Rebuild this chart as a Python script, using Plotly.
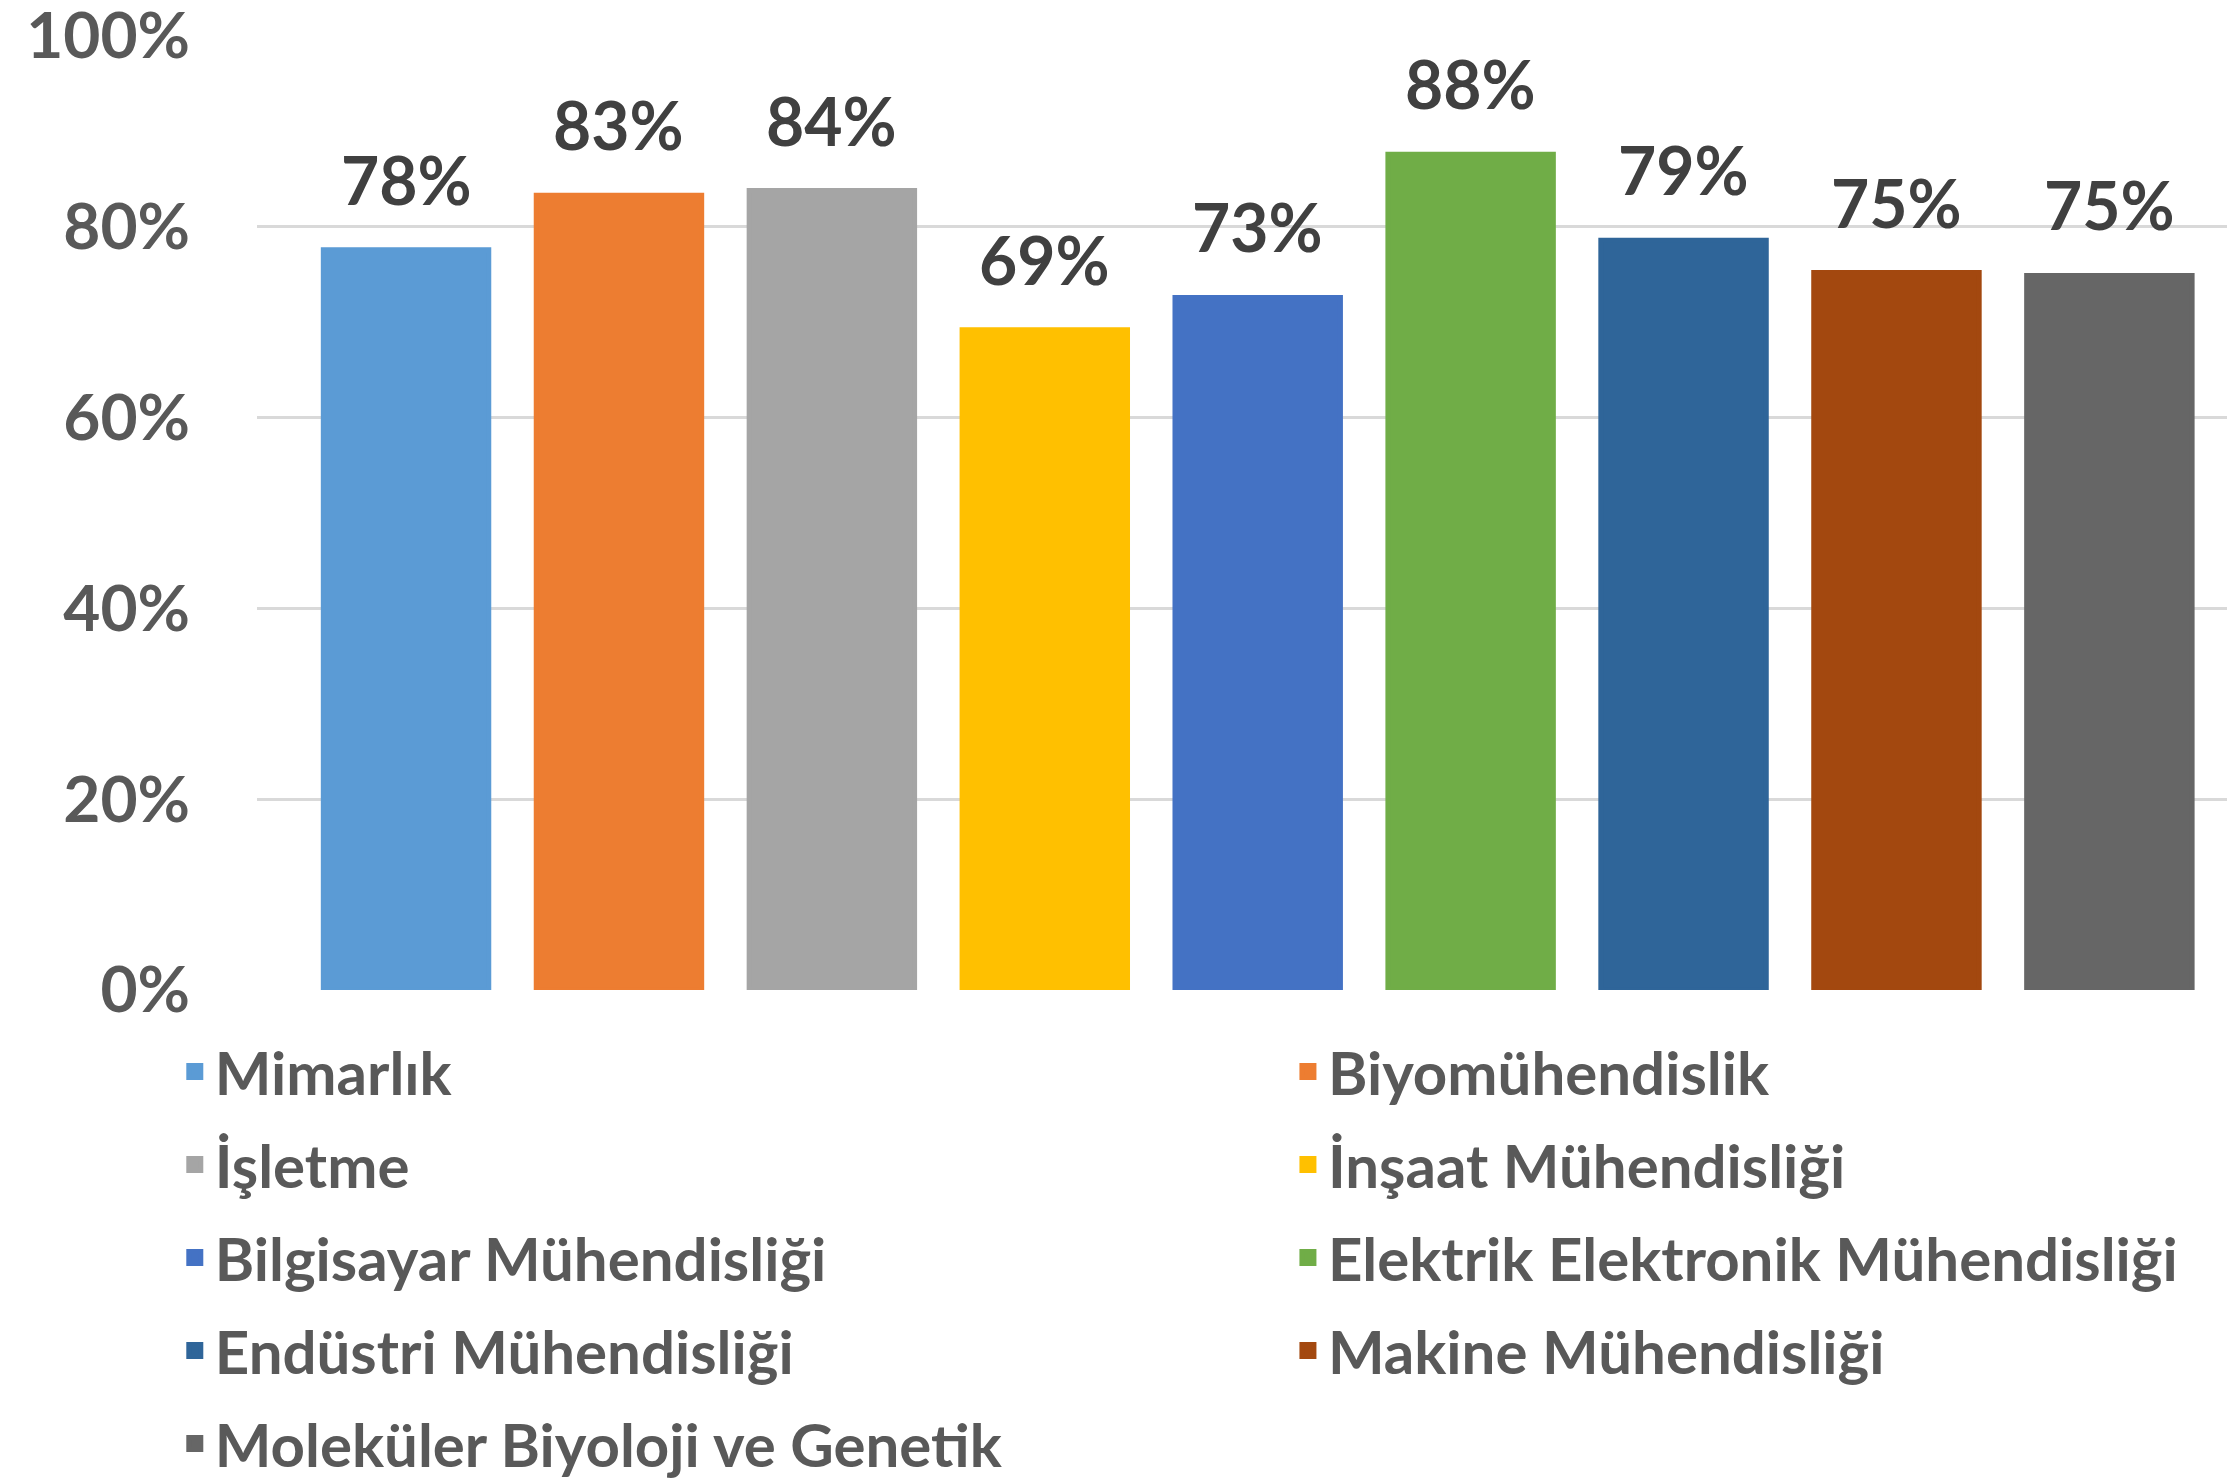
import plotly.graph_objects as go

categories = ["Mimarlık", "Biyomühendislik", "İşletme", "İnşaat Mühendisliği",
              "Bilgisayar Mühendisliği", "Elektrik Elektronik Mühendisliği",
              "Endüstri Mühendisliği", "Makine Mühendisliği",
              "Moleküler Biyoloji ve Genetik"]
values = [0.776, 0.833, 0.838, 0.692, 0.726, 0.876, 0.786, 0.752, 0.749]
colors = ["#5b9bd5", "#ed7d31", "#a5a5a5", "#ffc000", "#4472c4",
          "#70ad47", "#2f6599", "#a3480f", "#666666"]
y_ticks = [0, 0.2, 0.4, 0.6, 0.8, 1.0]

FONT = "Lato"
LINE_W = 5  # bar outline (same colour as fill) -> larger legend swatch

fig = go.Figure()
for i, (cat, val, col) in enumerate(zip(categories, values, colors)):
    fig.add_trace(go.Bar(
        x=[cat], y=[val], name=cat, width=0.777,
        legend="legend" if i % 2 == 0 else "legend2",
        legendgroup=cat,
        marker=dict(color=col, line=dict(width=LINE_W, color=col)),
        hoverinfo="x+y",
    ))
    fig.add_annotation(
        x=cat, y=val, text=f"{val:.0%}", showarrow=False,
        yanchor="bottom", yshift=29,
        font=dict(family=FONT, size=66, color="#404040", weight="bold"),
    )

legend_font = dict(family=FONT, size=60, color="#595959", weight="bold")

fig.update_layout(
    width=2227, height=1478,
    margin=dict(l=249, r=0, t=28, b=496, autoexpand=False),
    paper_bgcolor="white", plot_bgcolor="white",
    barmode="overlay",
    showlegend=True,
    legend=dict(
        orientation="v", x=-0.04156, xanchor="left", y=-0.0377, yanchor="top",
        tracegroupgap=12, font=legend_font, bgcolor="rgba(0,0,0,0)",
    ),
    legend2=dict(
        orientation="v", x=0.5212, xanchor="left", y=-0.0377, yanchor="top",
        tracegroupgap=12, font=legend_font, bgcolor="rgba(0,0,0,0)",
    ),
    xaxis=dict(
        type="category", categoryorder="array", categoryarray=categories,
        range=[-0.70, 8.59], showticklabels=False, showgrid=False,
        zeroline=False, showline=False, ticks="", automargin=False,
    ),
    yaxis=dict(
        range=[0, 1.0], tickvals=y_ticks, tickformat=".0%",
        showgrid=True, gridcolor="#d9d9d9", gridwidth=3,
        zeroline=False, showline=False, ticks="", automargin=False,
        ticklabelstandoff=66, ticklabeloverflow="allow",
        tickfont=dict(family=FONT, size=64, color="#595959", weight="bold"),
    ),
)

fig.write_html("out.html")
